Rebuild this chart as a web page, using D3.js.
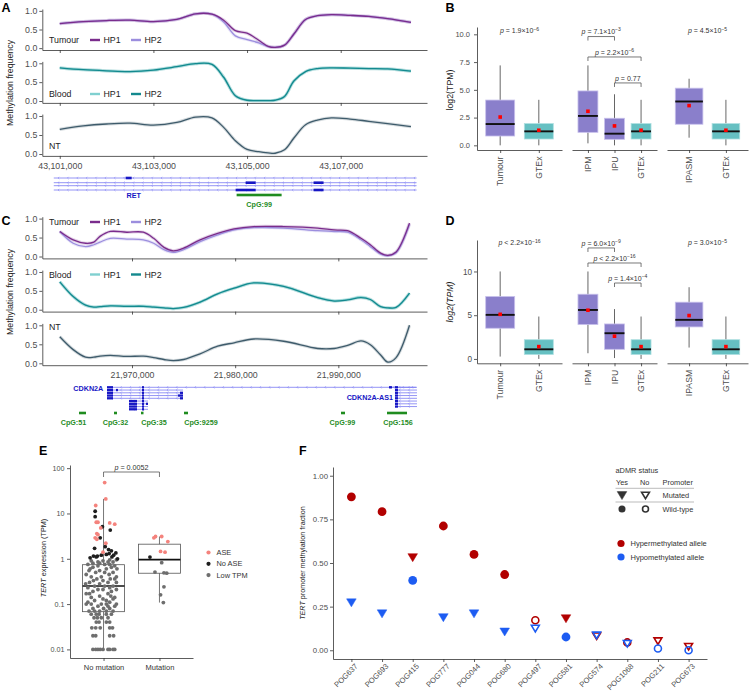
<!DOCTYPE html>
<html><head><meta charset="utf-8">
<script src="https://cdn.jsdelivr.net/npm/d3@7"></script>
<style>
html,body{margin:0;padding:0;background:#fff;}
svg{display:block;font-family:"Liberation Sans",Arial,Helvetica,sans-serif;opacity:0.999;}
</style></head><body><svg id="fig" width="749" height="693"></svg>
<script>
// ================= DATA =================
// Panel A (RET locus) methylation frequency
const aPos = [43101000,43101500,43102000,43102500,43103000,43103500,43103900,43104250,43104500,43104750,43105000,43105250,43105450,43105600,43105800,43106000,43106250,43106500,43106800,43107200,43107600,43108000,43108500];
const aTumourHP1 = [0.66,0.71,0.74,0.75,0.71,0.77,0.92,0.91,0.75,0.47,0.40,0.21,0.05,0.02,0.08,0.38,0.77,0.87,0.90,0.88,0.85,0.79,0.69];
const aTumourHP2 = [0.66,0.71,0.74,0.75,0.71,0.77,0.92,0.91,0.70,0.33,0.23,0.14,0.04,0.02,0.08,0.38,0.77,0.87,0.90,0.88,0.85,0.79,0.69];
const aBloodHP1 = [0.88,0.83,0.80,0.78,0.82,0.91,0.99,0.97,0.63,0.14,0.02,0.01,0.01,0.02,0.12,0.53,0.78,0.86,0.88,0.87,0.86,0.85,0.79];
const aBloodHP2 = [0.88,0.83,0.80,0.78,0.82,0.91,0.99,0.97,0.63,0.14,0.02,0.01,0.01,0.02,0.12,0.53,0.78,0.86,0.88,0.87,0.86,0.85,0.79];
const aNT = [0.65,0.74,0.79,0.81,0.76,0.83,0.97,0.95,0.70,0.35,0.12,0.06,0.03,0.02,0.11,0.42,0.77,0.89,0.95,0.92,0.86,0.80,0.72];
const aTicks = [43101000,43103000,43105000,43107000];
// RET transcripts (genomic coords)
const aTranscripts = [
  {row:0, start:43100872, end:43108620, exons:[[43102408,43102536]]},
  {row:1, start:43100872, end:43108620, exons:[[43104970,43105183],[43106420,43106634]]},
  {row:2, start:43100872, end:43108620, exons:[]},
  {row:3, start:43100872, end:43108620, exons:[[43104756,43105183],[43106420,43106634]]}
];
const aGeneLabels = [{text:'RET', pos:43102579}];
const aCpG = [{name:'CpG:99', start:43104777, end:43105738, label:43105258}];

// Panel C (CDKN2A locus)
const cPos = [21963000,21964300,21965500,21966300,21966900,21967900,21969500,21971100,21972100,21973100,21974000,21975000,21976600,21978300,21979900,21981800,21984700,21988000,21989600,21990900,21992200,21993100,21994100,21994800,21995600,21996900];
const cTumourHP1 = [0.66,0.44,0.35,0.38,0.53,0.66,0.64,0.64,0.48,0.24,0.15,0.22,0.44,0.61,0.73,0.79,0.79,0.75,0.70,0.68,0.48,0.31,0.09,0.03,0.12,0.88];
const cTumourHP2 = [0.66,0.35,0.26,0.31,0.38,0.48,0.46,0.44,0.35,0.18,0.11,0.18,0.39,0.57,0.70,0.76,0.75,0.68,0.66,0.64,0.44,0.26,0.06,0.02,0.10,0.85];
const cBloodHP1 = [0.74,0.35,0.12,0.07,0.08,0.11,0.10,0.10,0.08,0.05,0.03,0.06,0.20,0.42,0.57,0.71,0.62,0.32,0.24,0.27,0.34,0.27,0.08,0.05,0.06,0.44];
const cBloodHP2 = [0.74,0.35,0.12,0.07,0.08,0.10,0.09,0.09,0.07,0.05,0.03,0.06,0.20,0.42,0.57,0.71,0.62,0.32,0.23,0.26,0.32,0.27,0.08,0.05,0.06,0.44];
const cNT = [0.70,0.36,0.16,0.16,0.19,0.21,0.18,0.19,0.15,0.10,0.07,0.10,0.25,0.45,0.54,0.64,0.58,0.39,0.39,0.47,0.59,0.49,0.22,0.03,0.15,1.00];
const cTicks = [21970000,21980000,21990000];
const cTranscripts = [
  {row:0, start:21967576, end:21997528, exons:[[21967576,21968158],[21970969,21971163]]},
  {row:1, start:21967576, end:21974943, exons:[[21967576,21968158],[21968450,21968640],[21970969,21971163]]},
  {row:2, start:21967576, end:21974943, exons:[[21967576,21968158],[21970969,21971163],[21974652,21974943]]},
  {row:3, start:21967576, end:21974943, exons:[[21967576,21968158],[21970969,21971163],[21974460,21974943]]},
  {row:4, start:21967576, end:21974943, exons:[[21967576,21968158],[21970969,21971163],[21974652,21974943]]},
  {row:5, start:21969709, end:21971551, exons:[[21969709,21970484],[21970969,21971163]]},
  {row:6, start:21969709, end:21971551, exons:[[21969709,21970484],[21970969,21971163],[21971357,21971551]]},
  {row:7, start:21969709, end:21971551, exons:[[21969709,21970484],[21970969,21971163]]},
  {row:8, start:21969709, end:21971551, exons:[[21969709,21970484],[21970969,21971163]]},
  {row:0, start:21994911, end:21997625, exons:[[21994911,21995200],[21995492,21995783]]},
  {row:1, start:21995492, end:21997625, exons:[[21995492,21995783]]},
  {row:2, start:21995492, end:21997625, exons:[[21995492,21995783]]},
  {row:3, start:21995492, end:21997625, exons:[[21995492,21995783]]},
  {row:4, start:21995492, end:21997625, exons:[[21995492,21995783]]},
  {row:5, start:21995492, end:21997625, exons:[[21995492,21995783]]},
  {row:6, start:21995492, end:21997625, exons:[[21995492,21995783]]},
  {row:7, start:21995492, end:21997625, exons:[[21995492,21995783]]}
];
const cGeneLabels = [{text:'CDKN2A', pos:21967218, row:0.6}, {text:'CDKN2A-AS1', pos:21995298, row:3.6}];
const cCpG = [
  {name:'CpG:51', start:21964862, end:21965540, label:21964329},
  {name:'CpG:32', start:21968255, end:21968546, label:21968400},
  {name:'CpG:35', start:21970872, end:21971066, label:21972132},
  {name:'CpG:9259', start:21975041, end:21975429, label:21976688},
  {name:'CpG:99', start:21990259, end:21990647, label:21990395},
  {name:'CpG:156', start:21994718, end:21996657, label:21995783}
];

// Panel B / D boxplots: [lower whisker, Q1, median, Q3, upper whisker, mean]
const bdFacets = [['Tumour','GTEx'],['IPM','IPU','GTEx'],['IPASM','GTEx']];
const bStats = [
  [[0,0.84,1.92,4.08,7.2,2.55],[0,0.57,1.26,1.96,4.1,1.36]],
  [[0.18,1.17,2.65,4.9,7.2,3.07],[0,0.54,1.05,2.44,4.6,1.75],[0,0.57,1.26,1.96,4.1,1.36]],
  [[0.69,1.9,3.95,5.15,6.0,3.58],[0,0.57,1.26,1.96,4.1,1.36]]
];
const bTicks = [0,2.5,5,7.5,10];
const bPvals = [
  {facet:0, from:null, to:null, y:10.3, op:'=', base:'1.9', exp:'−6'},
  {facet:1, from:'IPM', to:'IPU', y:9.8, op:'=', base:'7.1', exp:'−3'},
  {facet:1, from:'IPM', to:'GTEx', y:7.96, op:'=', base:'2.2', exp:'−6'},
  {facet:1, from:'IPU', to:'GTEx', y:5.62, op:'=', base:'0.77', exp:null},
  {facet:2, from:null, to:null, y:10.3, op:'=', base:'4.5', exp:'−5'}
];
const dStats = [
  [[0.27,3.51,5.04,7.14,10.0,5.1],[0,0.5,1.1,2.2,4.85,1.41]],
  [[0.65,3.93,5.6,7.4,10.0,5.57],[0.1,1.1,2.94,4.0,5.7,2.6],[0,0.5,1.1,2.2,4.85,1.41]],
  [[1.3,3.66,4.47,6.49,8.2,4.96],[0,0.5,1.1,2.2,4.85,1.41]]
];
const dTicks = [0,5,10];
const dPvals = [
  {facet:0, from:null, to:null, y:13.26, op:'<', base:'2.2', exp:'−16'},
  {facet:1, from:'IPM', to:'IPU', y:12.69, op:'=', base:'6.0', exp:'−9'},
  {facet:1, from:'IPM', to:'GTEx', y:10.97, op:'<', base:'2.2', exp:'−16'},
  {facet:1, from:'IPU', to:'GTEx', y:8.68, op:'=', base:'1.4', exp:'−4'},
  {facet:2, from:null, to:null, y:13.26, op:'=', base:'3.0', exp:'−5'}
];

// Panel E: TERT expression (TPM); points are [TPM, jitter as fraction of category step]
const eCats = ['No mutation','Mutation'];
const eBox = [[0.01,0.068,0.25,0.74,21],[0.108,0.48,0.96,2.1,3.1]];
const eTicks = [0.01,0.1,1,10,100];
const eNoMutLow = [
 [0.01,-0.19],[0.01,-0.14],[0.01,-0.10],[0.01,-0.06],[0.01,-0.01],[0.01,0.08],[0.01,0.11],[0.01,0.17],[0.01,0.20],
 [0.02,-0.19],[0.02,-0.14],[0.02,0.11],[0.02,0.18],
 [0.03,-0.21],[0.03,-0.14],[0.03,-0.06],[0.03,0.11],[0.03,0.16],
 [0.04,-0.13],[0.04,-0.08],[0.04,0.05],[0.04,0.11],
 [0.05,-0.17],[0.05,-0.11],[0.05,-0.04],[0.05,0.08],
 [0.06,-0.22],[0.06,-0.13],[0.06,-0.08],[0.06,0.05],[0.06,0.14],
 [0.07,-0.26],[0.07,-0.16],[0.07,-0.07],[0.07,0.05],[0.07,0.17],
 [0.08,-0.19],[0.08,0.0],[0.08,0.11],
 [0.09,-0.10],[0.09,0.08],[0.09,0.20],
 [0.10,-0.31],[0.10,-0.22],[0.10,-0.04],[0.10,0.05],[0.10,0.23],
 [0.11,-0.28],[0.11,0.11],[0.12,-0.16],[0.12,0.05],[0.13,-0.01],[0.13,0.17],[0.14,-0.22],[0.14,0.20],[0.15,-0.07],[0.15,0.13],
 [0.17,-0.31],[0.17,-0.25],[0.17,0.08],[0.19,-0.19],[0.19,0.14],[0.21,-0.10],[0.21,-0.01],[0.21,0.23],[0.23,-0.28],[0.23,0.11],
 [0.25,-0.16],[0.25,0.02],[0.25,0.17],[0.28,-0.32],[0.28,-0.07],[0.30,-0.25],[0.30,0.08],[0.30,0.23],[0.33,-0.18],[0.33,-0.01],
 [0.36,-0.12],[0.36,0.12],[0.36,0.20],[0.40,-0.22],[0.40,-0.04],[0.40,0.23],[0.45,-0.31],[0.45,0.10],[0.50,-0.14],[0.50,0.02],[0.50,0.17],
 [0.55,-0.26],[0.55,-0.07],[0.60,-0.24],[0.60,0.05],[0.60,0.24],[0.65,-0.19],[0.65,0.14],[0.70,-0.10],[0.70,0.20],
 [0.75,-0.28],[0.75,0.02],[0.75,0.11],[0.80,-0.19],[0.80,-0.07],[0.85,-0.10],[0.85,0.08],[0.85,0.17],[0.90,-0.22],[0.90,-0.01],[0.95,0.11],[0.95,0.23]
];
const eNoMutNoASE = [[11.2,-0.15],[8.5,-0.15],[5.1,-0.02],[4.3,0.12],[2.9,-0.06],[1.85,0.03],[1.7,-0.16],[1.6,0.09],[1.5,0.14],[1.3,0.10],[1.35,0.22],[1.2,-0.04],[1.2,0.18],[1.15,-0.18],[1.15,-0.11],[1.1,-0.13],[1.1,0.15],[1.05,-0.24],[1.25,0.05],[1.0,0.25]];
const eNoMutASE = [[48,0.02],[21,0.04],[15,-0.14],[6.4,-0.13],[6.4,-0.10],[6.2,0.11],[5.8,0.20],[4.8,-0.05],[3.6,-0.12],[3.4,-0.10],[2.9,-0.15],[2.7,-0.12],[2.2,0.04],[1.4,-0.01]];
const eMutLow = [[0.82,0.04],[0.51,-0.08],[0.49,0.08],[0.48,0.13],[0.24,0.08],[0.16,0.02],[0.108,0.07]];
const eMutNoASE = [[1.09,-0.17]];
const eMutASE = [[2.9,-0.10],[3.1,-0.07],[3.1,0.04],[2.4,0.15],[1.45,0.02],[1.4,0.10]];

// Panel F: TERT promoter methylation fraction per sample
const fSamples = ['POG637','POG693','POG415','POG777','POG044','POG680','POG497','POG581','POG574','POG1068','POG211','POG673'];
const fHyper = [0.879,0.794,0.534,0.712,0.549,0.434,0.172,0.184,0.083,0.045,0.055,0.023];
const fHypo  = [0.275,0.212,0.400,0.190,0.212,0.108,0.127,0.076,0.088,0.040,0.010,0.000];
const fHyperMutated = [false,false,true,false,false,false,false,true,true,false,true,true];
const fHypoMutated  = [true,true,false,true,true,true,true,false,true,true,false,false];
const fADMR = [true,true,true,true,true,true,false,true,false,false,false,false];
const fTicks = [0,0.25,0.5,0.75,1];

// ================= DRAWING =================
const svg = d3.select('#fig');
const AXC = '#333333', TXC = '#4d4d4d', TITLE = '#222222';
const COL = {tHP1:'#7a2c8c', tHP2:'#9c8ede', bHP1:'#80d0d0', bHP2:'#13898e', nt:'#3e5b6b',
  purple:'#8a7fcb', purpleS:'#c8c1ec', teal:'#66c0c2', tealS:'#b0e0e1',
  gene:'#1616c4', geneLine:'#7a7af2', cpg:'#1f8c1f', red:'#b20000', blue:'#1d5cf2',
  ase:'#f4837d', noase:'#1e1e1e', low:'#6e6e6e'};

function styleAxis(g, fs) {
  g.attr('font-family', null).attr('font-size', null);
  g.select('.domain').attr('stroke', AXC).attr('stroke-width', 0.8);
  g.selectAll('.tick line').attr('stroke', AXC).attr('stroke-width', 0.8);
  g.selectAll('.tick text').attr('fill', TXC).style('font-size', fs + 'px');
  return g;
}
function txt(x, y, s, o = {}) {
  const t = svg.append('text').attr('x', x).attr('y', y).text(s)
    .style('font-size', (o.size || 8.8) + 'px').attr('fill', o.fill || TITLE)
    .attr('text-anchor', o.anchor || 'start');
  if (o.weight) t.style('font-weight', o.weight);
  if (o.dy) t.attr('dy', o.dy);
  if (o.rotate) t.attr('transform', `rotate(${o.rotate},${x},${y})`);
  return t;
}

// panel letters
[['A',1.5,11.7],['B',445.5,11.7],['C',1.5,225],['D',445.5,225],['E',39,455],['F',299,455]]
  .forEach(d => txt(d[1], d[2], d[0], {size:12.5, weight:'bold', fill:'#000'}));

// ---------- methylation track panels ----------
function drawMeth(x, pos, rows, ticks) {
  rows.forEach((r, i) => {
    const y = d3.scaleLinear().domain([-0.05, 1.05]).range(r.range);
    styleAxis(svg.append('g').attr('transform', `translate(${x.range()[0]},0)`)
      .call(d3.axisLeft(y).tickValues([0, 0.5, 1]).tickFormat(d3.format('.1f')).tickSize(3).tickPadding(2).tickSizeOuter(0)), 8.8);
    const last = i === rows.length - 1;
    styleAxis(svg.append('g').attr('transform', `translate(0,${r.range[0]})`)
      .call(d3.axisBottom(x).tickValues(ticks).tickFormat(last ? d3.format(',') : () => '').tickSize(3).tickPadding(3.5).tickSizeOuter(0)), 8.8);
    const line = d3.line().x((d, j) => x(pos[j])).y(d => y(d)).curve(d3.curveCatmullRom.alpha(0.5));
    r.lines.forEach(l => {
      svg.append('path').attr('d', line(l.vals)).attr('fill', 'none').attr('stroke', l.color).attr('stroke-width', 3.2).attr('opacity', 0.22);
    });
    r.lines.forEach(l => {
      svg.append('path').attr('d', line(l.vals)).attr('fill', 'none').attr('stroke', l.color).attr('stroke-width', 1.3);
    });
    txt(49, r.legendY, r.name, {dy:'0.35em'});
    r.legend.forEach((l, k) => {
      const lx = 90 + k * 41;
      svg.append('rect').attr('x', lx).attr('y', r.legendY - 1.2).attr('width', 10).attr('height', 2.4).attr('fill', l.color);
      txt(lx + 13.5, r.legendY, l.name, {dy:'0.35em'});
    });
  });
}
function drawTracks(x, transcripts, rowY, step, labels, cpgs, cpgY, exonH) {
  transcripts.forEach(t => {
    const yy = rowY(t.row);
    svg.append('line').attr('x1', x(t.start)).attr('x2', x(t.end)).attr('y1', yy).attr('y2', yy)
      .attr('stroke', COL.geneLine).attr('stroke-width', 0.8);
    d3.range(t.start + step / 2, t.end, step).forEach(p => {
      const px = x(p);
      svg.append('path').attr('d', `M${px + 0.8},${yy - 1.2}L${px - 0.4},${yy}L${px + 0.8},${yy + 1.2}`)
        .attr('fill', 'none').attr('stroke', COL.geneLine).attr('stroke-width', 0.5);
    });
    t.exons.forEach(e => {
      svg.append('rect').attr('x', x(e[0])).attr('y', yy - exonH / 2).attr('width', Math.max(1.5, x(e[1]) - x(e[0])))
        .attr('height', exonH).attr('fill', COL.gene);
    });
  });
  labels.forEach(l => {
    txt(x(l.pos), l.y, l.text, {size:7.2, weight:'bold', fill:COL.gene, anchor:l.anchor, dy:'0.35em'});
  });
  cpgs.forEach(c => {
    svg.append('rect').attr('x', x(c.start)).attr('y', cpgY - 1.3).attr('width', Math.max(2.5, x(c.end) - x(c.start)))
      .attr('height', 2.6).attr('fill', COL.cpg);
    txt(x(c.label), cpgY + 9, c.name, {size:7.2, weight:'bold', fill:COL.cpg, anchor:'middle', dy:'0.35em'});
  });
}

// Panel A
const xA = d3.scaleLinear().domain([43100627, 43108843]).range([42.3, 427]);
drawMeth(xA, aPos, [
  {name:'Tumour', range:[50, 9], legendY:40, lines:[{vals:aTumourHP2, color:COL.tHP2},{vals:aTumourHP1, color:COL.tHP1}],
   legend:[{name:'HP1', color:COL.tHP1},{name:'HP2', color:COL.tHP2}]},
  {name:'Blood', range:[102.9, 61.4], legendY:94, lines:[{vals:aBloodHP1, color:COL.bHP1},{vals:aBloodHP2, color:COL.bHP2}],
   legend:[{name:'HP1', color:COL.bHP1},{name:'HP2', color:COL.bHP2}]},
  {name:'NT', range:[155.9, 114.1], legendY:146, lines:[{vals:aNT, color:COL.nt}], legend:[]}
], aTicks);
txt(10, 83, 'Methylation frequency', {anchor:'middle', rotate:-90, dy:'0.35em'});
const aRowY = [178, 182.7, 185.7, 190];
drawTracks(xA, aTranscripts, r => aRowY[r], 200,
  aGeneLabels.map(l => ({...l, y:195.5, anchor:'middle'})), aCpG, 195, 2.6);

// Panel C
const xC = d3.scaleLinear().domain([21961305, 21998595]).range([42.3, 427]);
drawMeth(xC, cPos, [
  {name:'Tumour', range:[258.4, 216.7], legendY:222, lines:[{vals:cTumourHP2, color:COL.tHP2},{vals:cTumourHP1, color:COL.tHP1}],
   legend:[{name:'HP1', color:COL.tHP1},{name:'HP2', color:COL.tHP2}]},
  {name:'Blood', range:[311.6, 270.1], legendY:274.5, lines:[{vals:cBloodHP1, color:COL.bHP1},{vals:cBloodHP2, color:COL.bHP2}],
   legend:[{name:'HP1', color:COL.bHP1},{name:'HP2', color:COL.bHP2}]},
  {name:'NT', range:[365.2, 323.4], legendY:326.7, lines:[{vals:cNT, color:COL.nt}], legend:[]}
], cTicks);
txt(10, 292, 'Methylation frequency', {anchor:'middle', rotate:-90, dy:'0.35em'});
drawTracks(xC, cTranscripts, r => 387.3 + r * 2.75, 900,
  cGeneLabels.map(l => ({...l, y:387.3 + l.row * 2.75, anchor:'end'})), cCpG, 413, 2.3);

// ---------- box panels B / D ----------
function pText(x, y, p, size) {
  const t = svg.append('text').attr('x', x).attr('y', y).attr('text-anchor', 'middle')
    .style('font-size', size + 'px').attr('fill', '#333');
  t.append('tspan').text('p').style('font-style', 'italic');
  t.append('tspan').text(` ${p.op} ${p.base}${p.exp ? '×10' : ''}`);
  if (p.exp) t.append('tspan').text(p.exp).attr('dy', -2.8).style('font-size', (size * 0.72) + 'px');
  return t;
}
function drawBoxPanel(cfg) {
  const y = d3.scaleLinear().domain(cfg.yDomain).range(cfg.yRange);
  styleAxis(svg.append('g').attr('transform', `translate(${cfg.ranges[0][0]},0)`)
    .call(d3.axisLeft(y).tickValues(cfg.ticks).tickFormat(cfg.fmt).tickSize(3).tickPadding(cfg.pad).tickSizeOuter(0)), cfg.tickSize);
  const xs = [];
  bdFacets.forEach((cats, fi) => {
    const x = d3.scalePoint().domain(cats).range(cfg.ranges[fi]).padding(0.6);
    xs.push(x);
    styleAxis(svg.append('g').attr('transform', `translate(0,${cfg.yRange[0]})`)
      .call(d3.axisBottom(x).tickSize(3).tickSizeOuter(0).tickFormat(() => '')), 8);
    const bw = x.step() * 0.75;
    cats.forEach((c, ci) => {
      const s = cfg.stats[fi][ci];
      const cx = x(c);
      const gtex = c === 'GTEx';
      svg.append('line').attr('x1', cx).attr('x2', cx).attr('y1', y(s[0])).attr('y2', y(s[4])).attr('stroke', '#555').attr('stroke-width', 0.9);
      svg.append('rect').attr('x', cx - bw / 2).attr('y', y(s[3])).attr('width', bw).attr('height', y(s[1]) - y(s[3]))
        .attr('fill', gtex ? COL.teal : COL.purple).attr('stroke', gtex ? COL.tealS : COL.purpleS).attr('stroke-width', 0.8);
      svg.append('line').attr('x1', cx - bw / 2).attr('x2', cx + bw / 2).attr('y1', y(s[2])).attr('y2', y(s[2])).attr('stroke', '#111').attr('stroke-width', 1.9);
      svg.append('rect').attr('x', cx - 1.8).attr('y', y(s[5]) - 1.8).attr('width', 3.6).attr('height', 3.6).attr('fill', '#ff0000');
      const ly = cfg.yRange[0] + 6.5;
      txt(cx, ly, c, {size:8.7, fill:TXC, anchor:'end', rotate:-90, dy:'0.35em'});
    });
  });
  cfg.pvals.forEach(p => {
    const x = xs[p.facet];
    if (!p.from) {
      const cats = bdFacets[p.facet];
      const cx = (x(cats[0]) + x(cats[cats.length - 1])) / 2;
      pText(cx, y(p.y) + 2.5, p, 7);
    } else {
      const x1 = x(p.from), x2 = x(p.to), yy = y(p.y);
      svg.append('path').attr('d', `M${x1},${yy + 4}V${yy}H${x2}V${yy + 4}`).attr('fill', 'none').attr('stroke', '#555').attr('stroke-width', 0.8);
      pText((x1 + x2) / 2, yy - 2.3, p, 7);
    }
  });
  const ty = txt(cfg.titleX, cfg.titleY, 'log2(TPM)', {anchor:'middle', rotate:-90, dy:'0.35em'});
  if (cfg.italic) ty.style('font-style', 'italic');
}
const bdRangesB = [[477, 562], [572, 657], [667, 748]];
drawBoxPanel({yDomain:[-0.42, 10.66], yRange:[150, 27], ranges:bdRangesB, ticks:bTicks, fmt:d3.format('.1f'), pad:4, tickSize:7.5,
  stats:bStats, pvals:bPvals, titleX:450, titleY:90, italic:false});
drawBoxPanel({yDomain:[-0.5, 13.6], yRange:[363.3, 240], ranges:bdRangesB, ticks:dTicks, fmt:d3.format('d'), pad:2, tickSize:8.2,
  stats:dStats, pvals:dPvals, titleX:450, titleY:302, italic:true});

// ---------- Panel E ----------
(function () {
  const y = d3.scaleLog().domain([Math.pow(10, -2.19), Math.pow(10, 2.07)]).range([658, 465]);
  const x = d3.scalePoint().domain(eCats).range([70, 193]).padding(0.6);
  styleAxis(svg.append('g').attr('transform', 'translate(70,0)')
    .call(d3.axisLeft(y).tickValues(eTicks).tickFormat(d3.format('~g')).tickSize(3).tickPadding(2.5).tickSizeOuter(0)), 7.2);
  const xa = styleAxis(svg.append('g').attr('transform', 'translate(0,658)')
    .call(d3.axisBottom(x).tickSize(3).tickPadding(3.5).tickSizeOuter(0)), 7.5);
  xa.selectAll('.tick text').attr('fill', '#333');
  const bw = x.step() * 0.75;
  eCats.forEach((c, i) => {
    const s = eBox[i], cx = x(c);
    svg.append('line').attr('x1', cx).attr('x2', cx).attr('y1', y(s[0])).attr('y2', y(s[4])).attr('stroke', '#777').attr('stroke-width', 1);
    svg.append('rect').attr('x', cx - bw / 2).attr('y', y(s[3])).attr('width', bw).attr('height', y(s[1]) - y(s[3]))
      .attr('fill', '#fff').attr('stroke', '#555').attr('stroke-width', 0.8);
    svg.append('line').attr('x1', cx - bw / 2).attr('x2', cx + bw / 2).attr('y1', y(s[2])).attr('y2', y(s[2])).attr('stroke', '#111').attr('stroke-width', 1.6);
  });
  const groups = [
    [eNoMutLow, 0, COL.low], [eMutLow, 1, COL.low],
    [eNoMutNoASE, 0, COL.noase], [eMutNoASE, 1, COL.noase],
    [eNoMutASE, 0, COL.ase], [eMutASE, 1, COL.ase]
  ];
  groups.forEach(([pts, ci, col]) => {
    pts.forEach(p => {
      svg.append('circle').attr('cx', x(eCats[ci]) + p[1] * x.step()).attr('cy', y(p[0])).attr('r', 1.9).attr('fill', col);
    });
  });
  const x1 = x(eCats[0]), x2 = x(eCats[1]);
  svg.append('path').attr('d', `M${x1},477V472H${x2}V477`).attr('fill', 'none').attr('stroke', '#555').attr('stroke-width', 0.8);
  pText((x1 + x2) / 2, 469.5, {op:'=', base:'0.0052', exp:null}, 7.2);
  const tt = svg.append('text').attr('x', 43).attr('y', 558).attr('text-anchor', 'middle').attr('dy', '0.35em')
    .attr('transform', 'rotate(-90,43,558)').style('font-size', '7.3px').attr('fill', TITLE);
  tt.append('tspan').text('TERT').style('font-style', 'italic');
  tt.append('tspan').text(' expression (TPM)');
  [['ASE', COL.ase], ['No ASE', COL.noase], ['Low TPM', COL.low]].forEach((l, i) => {
    const ly = 552.5 + i * 11.3;
    svg.append('circle').attr('cx', 208.5).attr('cy', ly).attr('r', 2.1).attr('fill', l[1]);
    txt(216.5, ly, l[0], {size:7.4, fill:'#333', dy:'0.35em'});
  });
})();

// ---------- Panel F ----------
function fSym(cx, cy, tri, filled, color, scale = 1) {
  if (tri) {
    const w = 4.8 * scale, t = 3.4 * scale, b = 4.6 * scale;
    const k = filled ? 1 : 0.82;
    const p = `M${cx - w * k},${cy - t * k}L${cx + w * k},${cy - t * k}L${cx},${cy + b * k}Z`;
    svg.append('path').attr('d', p).attr('fill', filled ? color : 'none').attr('stroke', color)
      .attr('stroke-width', filled ? 0.5 : 1.6).attr('stroke-linejoin', 'miter');
  } else {
    svg.append('circle').attr('cx', cx).attr('cy', cy).attr('r', filled ? 4.4 * scale : 3.5 * scale)
      .attr('fill', filled ? color : 'none').attr('stroke', color).attr('stroke-width', filled ? 0 : 1.6);
  }
}
(function () {
  const y = d3.scaleLinear().domain([-0.05, 1.05]).range([659, 467]);
  const x = d3.scalePoint().domain(fSamples).range([333, 707]).padding(0.6);
  styleAxis(svg.append('g').attr('transform', 'translate(333,0)')
    .call(d3.axisLeft(y).tickValues(fTicks).tickFormat(d3.format('.2f')).tickSize(3).tickPadding(2).tickSizeOuter(0)), 7.8);
  styleAxis(svg.append('g').attr('transform', 'translate(0,659)')
    .call(d3.axisBottom(x).tickSize(3).tickSizeOuter(0).tickFormat(() => '')), 7.8);
  fSamples.forEach((s, i) => {
    const cx = x(s);
    svg.append('text').attr('text-anchor', 'end').attr('dy', '0.71em')
      .attr('transform', `translate(${cx + 3},${663}) rotate(-45)`).style('font-size', '7.6px').attr('fill', TXC).text(s);
  });
  fSamples.forEach((s, i) => {
    fSym(x(s), y(fHyper[i]), fHyperMutated[i], fADMR[i], COL.red);
  });
  fSamples.forEach((s, i) => {
    fSym(x(s), y(fHypo[i]), fHypoMutated[i], fADMR[i], COL.blue);
  });
  const tt = svg.append('text').attr('x', 302).attr('y', 563).attr('text-anchor', 'middle').attr('dy', '0.35em')
    .attr('transform', 'rotate(-90,302,563)').style('font-size', '7.2px').attr('fill', TITLE);
  tt.append('tspan').text('TERT').style('font-style', 'italic');
  tt.append('tspan').text(' promoter methylation fraction');
  // legend
  const LC = '#333';
  txt(615.5, 470, 'aDMR status', {size:7.4, fill:LC, dy:'0.35em'});
  txt(616, 482, 'Yes', {size:7.4, fill:LC, dy:'0.35em'});
  txt(640, 482, 'No', {size:7.4, fill:LC, dy:'0.35em'});
  txt(662.5, 482, 'Promoter', {size:7.4, fill:LC, dy:'0.35em'});
  [488.3, 502].forEach(ly => svg.append('line').attr('x1', 615.5).attr('x2', 694).attr('y1', ly).attr('y2', ly).attr('stroke', '#aaa').attr('stroke-width', 0.8));
  fSym(622, 495, true, true, LC); fSym(645.5, 495, true, false, LC);
  txt(662.5, 495, 'Mutated', {size:7.4, fill:LC, dy:'0.35em'});
  fSym(622, 509, false, true, LC, 0.8); fSym(645.5, 509, false, false, LC, 0.85);
  txt(662.5, 509, 'Wild-type', {size:7.4, fill:LC, dy:'0.35em'});
  [['Hypermethylated allele', COL.red], ['Hypomethylated allele', COL.blue]].forEach((l, i) => {
    const ly = 543.5 + i * 13.5;
    svg.append('circle').attr('cx', 621).attr('cy', ly).attr('r', 3.6).attr('fill', l[1]);
    txt(630.5, ly, l[0], {size:7.5, fill:LC, dy:'0.35em'});
  });
})();
</script></body></html>
